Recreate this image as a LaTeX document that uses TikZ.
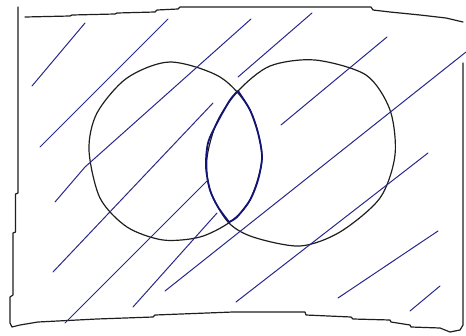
\documentclass[tikz,border=0pt]{standalone}
\begin{document}
\begin{tikzpicture}[x=1pt,y=-1pt,
  ink/.style={line width=1.2pt, draw={rgb,255:red,30;green,30;blue,30}, line join=round, line cap=round},
  hatch/.style={line width=1pt, draw={rgb,255:red,40;green,40;blue,140}, line cap=round},
  lensline/.style={line width=1.8pt, draw={rgb,255:red,20;green,20;blue,120}, line join=round}]
\useasboundingbox (0,0) rectangle (466,335);
% frame
\draw[ink] (25,17) -- (70,16) -- (72,15) -- (115,14) -- (117,13) -- (155,12) -- (157,10) -- (178,9) -- (180,7)
  -- (371,7) -- (373,10) -- (390,12) -- (420,15) -- (446,18) -- (463,22);
\draw[ink] (18,7) -- (18,193) -- (15.5,194) -- (15.5,232) -- (13,233) -- (13,295) -- (10,297) -- (10,323) -- (12,327)
  -- (20,325) -- (38,322) -- (97,319) -- (153,317) -- (155,315) -- (233,312) -- (305,312) -- (306,315)
  -- (351,317) -- (353,319) -- (390,320) -- (391,322) -- (410,325) -- (411,327) -- (440,328) -- (450,332)
  -- (460,330) -- (463,325) -- (463,63);
% left circle
\draw[ink] plot[smooth cycle] coordinates {
  (89,150) (97,113) (127,78) (170,62) (220,77) (250,110) (262,157) (250,200) (230,222)
  (200,237) (163,240) (127,227) (100,198) };
% right circle
\draw[ink] plot[smooth cycle] coordinates {
  (238,91) (270,66) (315,60) (366,75) (390,110) (395,155) (380,198) (340,232) (300,246)
  (253,237) (228,222) (210,190) (207,158) (217,122) };
% lens
\draw[lensline] plot[smooth] coordinates {
  (238,91) (250,110) (258,133) (262,157) (258,180) (250,200) (237,217) (229,222) };
\draw[lensline] plot[smooth] coordinates {
  (238,91) (230,100) (217,123) (208,143) (206,167) (210,190) (218,207) (229,222) };
% hatching
\draw[hatch] (32,86) -- (85,23);
\draw[hatch] (40,147) -- (168,19);
\draw[hatch] (55,202) -- (85,167) -- (251,19);
\draw[hatch] (53,272) -- (213,103);
\draw[hatch] (65,323) -- (208,180);
\draw[hatch] (133,307) -- (217,213);
\draw[hatch] (165,291) -- (466,52);
\draw[hatch] (236,302) -- (428,153);
\draw[hatch] (338,298) -- (438,231);
\draw[hatch] (410,311) -- (440,286);
\draw[hatch] (281,125) -- (387,37);
\draw[hatch] (238,77) -- (312,13);
\end{tikzpicture}
\end{document}
